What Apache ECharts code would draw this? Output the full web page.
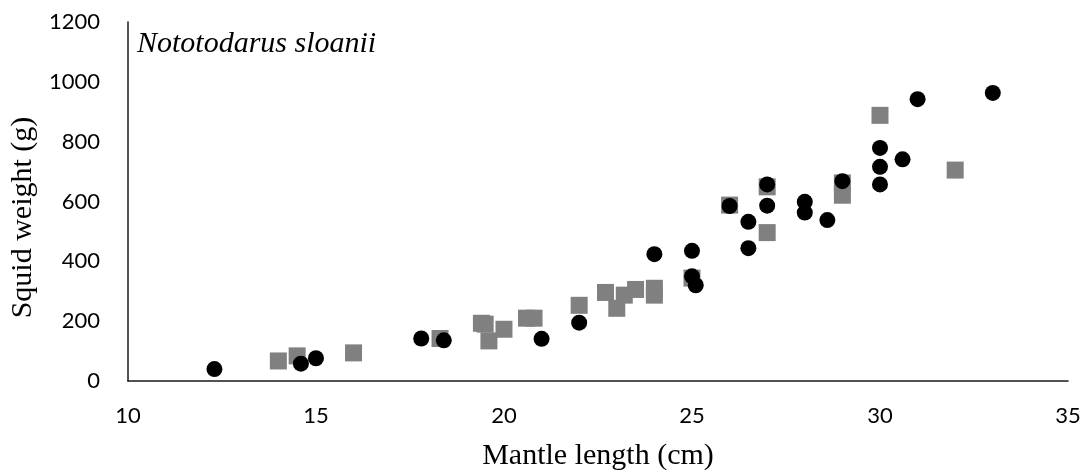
<!DOCTYPE html>
<html>
<head>
<meta charset="utf-8">
<script src="https://cdn.jsdelivr.net/npm/echarts@6/dist/echarts.min.js"></script>
<style>
  html, body { margin: 0; padding: 0; background: #fff; }
  #chart { width: 1086px; height: 476px; }
</style>
</head>
<body>
<div id="chart"></div>
<script>
// Mantle length (cm) and squid weight (g), Nototodarus sloanii
const squareLength = [14, 14.5, 16, 18.3, 19.4, 19.5, 19.6, 20, 20.6, 20.8, 22, 22.7, 23, 23.2, 23.5, 24, 24, 25, 26, 27, 27, 29, 29, 30, 32];
const squareWeight = [67, 84, 94, 142, 193, 190, 134, 173, 210, 210, 253, 296, 243, 287, 306, 310, 287, 344, 588, 649, 496, 662, 621, 888, 705];

const circleLength = [12.3, 14.6, 15, 17.8, 18.4, 21, 22, 24, 25, 25, 25.1, 26, 26.5, 26.5, 27, 27, 28, 28, 28.6, 29, 30, 30, 30, 30.6, 31, 33];
const circleWeight = [40, 58, 76, 142, 136, 141, 195, 424, 435, 350, 320, 585, 532, 444, 657, 586, 599, 563, 538, 668, 779, 716, 657, 741, 942, 963];

const xTicks = [10, 15, 20, 25, 30, 35];
const yTicks = [0, 200, 400, 600, 800, 1000, 1200];

const speciesName = 'Nototodarus sloanii';
const xTitle = 'Mantle length (cm)';
const yTitle = 'Squid weight (g)';

const pairs = (xs, ys) => xs.map((x, i) => [x, ys[i]]);

const chart = echarts.init(document.getElementById('chart'), null, { renderer: 'canvas' });
const tickFont = { fontFamily: 'Lato, "Open Sans", sans-serif', fontSize: 22, color: '#000' };
const titleFont = { fontFamily: '"Liberation Serif", serif', fontSize: 30, color: '#000' };

chart.setOption({
  animation: false,
  backgroundColor: '#fff',
  grid: { left: 121, right: 18, top: 22, bottom: 93, containLabel: false },
  title: {
    text: speciesName,
    left: 132,
    top: 24,
    textStyle: { fontFamily: '"Liberation Serif", serif', fontStyle: 'italic', fontWeight: 'normal', fontSize: 30, color: '#000' }
  },
  xAxis: {
    type: 'value',
    min: xTicks[0],
    max: xTicks[xTicks.length - 1],
    interval: 5,
    name: xTitle,
    nameLocation: 'middle',
    nameGap: 60,
    nameTextStyle: titleFont,
    axisLine: { show: true, lineStyle: { color: '#1a1a1a', width: 1.5 } },
    axisTick: { show: false },
    splitLine: { show: false },
    axisLabel: { ...tickFont, margin: 24, formatter: v => String(v) }
  },
  yAxis: {
    type: 'value',
    min: yTicks[0],
    max: yTicks[yTicks.length - 1],
    interval: 200,
    name: yTitle,
    nameLocation: 'middle',
    nameGap: 82,
    nameTextStyle: { ...titleFont, padding: [0, 32, 0, 0] },
    axisLine: { show: true, lineStyle: { color: '#1a1a1a', width: 1.5 } },
    axisTick: { show: false },
    splitLine: { show: false },
    axisLabel: { ...tickFont, margin: 28, formatter: v => String(v) }
  },
  series: [
    {
      type: 'scatter',
      data: pairs(squareLength, squareWeight),
      symbol: 'rect',
      symbolSize: 17,
      itemStyle: { color: '#808080', opacity: 1 },
      z: 2
    },
    {
      type: 'scatter',
      data: pairs(circleLength, circleWeight),
      symbol: 'circle',
      symbolSize: 16,
      itemStyle: { color: '#000', opacity: 1 },
      z: 3
    }
  ]
});
</script>
</body>
</html>
